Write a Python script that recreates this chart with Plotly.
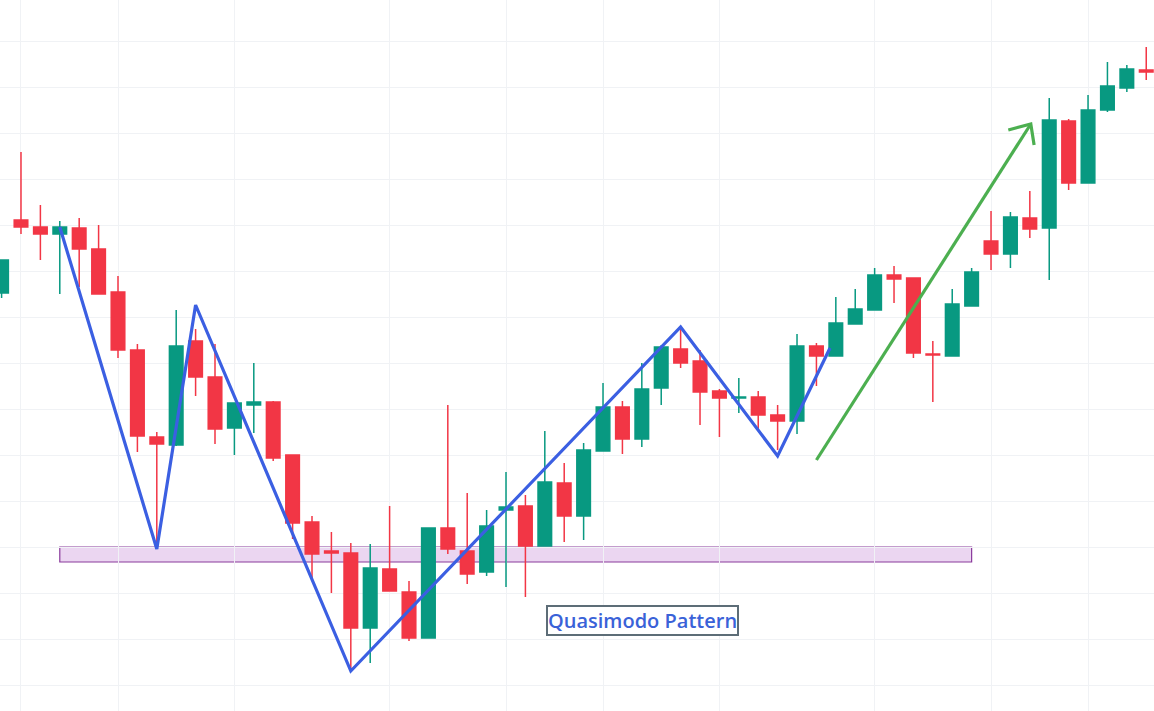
import plotly.graph_objects as go

# candle index 0..59, prices
opens = [43.8, 51.1, 50.4, 49.7, 50.3, 48.2, 43.9, 38.1, 29.4, 28.6,
         39.0, 35.4, 30.3, 32.6, 32.9, 27.6, 20.9, 18.0, 17.8, 10.3,
         16.2, 13.9, 9.3, 20.3, 18.0, 15.9, 22.1, 22.5, 18.5, 24.8,
         21.5, 28.0, 32.4, 29.2, 34.3, 38.2, 37.0, 34.0, 33.3, 33.4,
         31.6, 31.0, 38.5, 37.5, 40.7, 42.1, 45.6, 45.3, 37.7, 37.5,
         42.5, 49.0, 47.7, 51.3, 50.3, 61.0, 54.8, 62.1, 64.3, 66.1]
highs = [47.1, 57.9, 52.6, 51.0, 51.3, 50.6, 45.5, 38.7, 29.9, 42.1,
         40.2, 38.7, 32.8, 36.8, 33.0, 27.6, 21.5, 19.9, 18.8, 18.7,
         22.5, 15.0, 20.3, 32.6, 23.8, 22.1, 25.9, 23.6, 30.0, 26.8,
         28.8, 34.8, 33.0, 36.8, 38.6, 40.2, 38.1, 34.2, 35.3, 34.0,
         32.6, 39.7, 38.8, 43.4, 44.2, 46.3, 46.5, 45.3, 39.0, 44.2,
         46.3, 52.0, 51.9, 54.0, 63.3, 61.2, 63.6, 66.9, 66.6, 68.4]
lows = [43.3, 49.7, 47.1, 43.7, 44.4, 43.7, 37.3, 27.9, 18.4, 28.5,
        33.5, 28.7, 27.6, 29.8, 27.0, 19.2, 15.3, 13.8, 5.9, 6.8,
        14.0, 9.0, 9.3, 17.7, 14.7, 15.5, 14.4, 13.4, 18.5, 18.9,
        19.1, 28.0, 27.7, 28.4, 32.6, 36.3, 30.6, 29.4, 31.8, 30.1,
        28.1, 29.7, 34.5, 37.5, 40.7, 42.1, 42.8, 37.3, 32.9, 37.5,
        42.5, 46.1, 46.3, 49.3, 45.1, 54.1, 54.8, 61.9, 63.9, 65.1]
closes = [47.1, 50.4, 49.7, 50.4, 48.2, 43.7, 38.1, 29.5, 28.7, 38.5,
          35.4, 30.2, 32.8, 32.9, 27.3, 20.8, 17.7, 17.8, 10.3, 16.3,
          14.0, 9.3, 20.3, 18.2, 15.7, 20.5, 22.4, 18.5, 24.9, 21.5,
          28.1, 32.4, 29.2, 34.2, 38.4, 36.8, 33.9, 33.3, 33.4, 31.6,
          31.0, 38.5, 37.5, 40.8, 42.2, 45.6, 45.2, 37.8, 37.6, 42.7,
          45.9, 47.7, 51.4, 50.2, 61.1, 54.8, 62.1, 64.5, 66.2, 65.9]
idx = list(range(len(opens)))

# vertical grid positions (date ticks)
date_ticks = [1, 6, 12, 20, 26, 31, 37, 45, 51, 56]

# drawn pattern
zigzag_x = [3.0, 8.0, 10.0, 18.0, 35.0, 40.0, 42.7]
zigzag_y = [50.4, 18.2, 42.6, 6.0, 40.4, 27.5, 38.3]
arrow_x = [42.0, 53.05, None, 51.89, 53.05, 53.22]
arrow_y = [27.1, 60.7, None, 60.1, 60.7, 58.6]
zone_x = [3.0, 50.0]
zone_y = [16.9, 18.4]
label_pos = (33.06, 11.05)

fig = go.Figure()
fig.add_trace(go.Candlestick(
    x=idx, open=opens, high=highs, low=lows, close=closes,
    increasing=dict(line=dict(color='#089981', width=1.5), fillcolor='#089981'),
    decreasing=dict(line=dict(color='#f23645', width=1.5), fillcolor='#f23645'),
    whiskerwidth=0, hoverinfo='skip', showlegend=False))
fig.add_trace(go.Scatter(x=zigzag_x, y=zigzag_y, mode='lines',
                         line=dict(color='#3b5fe2', width=3.2),
                         hoverinfo='skip', showlegend=False))
fig.add_trace(go.Scatter(x=arrow_x, y=arrow_y, mode='lines',
                         line=dict(color='#4caf50', width=3.2),
                         hoverinfo='skip', showlegend=False))

fig.add_shape(type='rect', x0=zone_x[0], x1=zone_x[1], y0=zone_y[0], y1=zone_y[1],
              xref='x', yref='y', layer='below',
              fillcolor='#ebd6f1', line=dict(color='#8a3a9c', width=1.2))

fig.add_annotation(x=label_pos[0], y=label_pos[1], text='Quasimodo Pattern',
                   showarrow=False,
                   font=dict(family='Open Sans', size=20, color='#3a62d8', weight=600),
                   bgcolor='white', bordercolor='#5d6d77', borderwidth=2, borderpad=0)

fig.update_layout(
    width=1154, height=711,
    margin=dict(l=0, r=0, t=0, b=0),
    paper_bgcolor='white', plot_bgcolor='white',
    boxgap=0.3, boxgroupgap=0,
    xaxis=dict(range=[-0.082, 59.4], tickvals=date_ticks, showticklabels=False,
               showgrid=True, gridcolor='#f0f2f5', zeroline=False,
               rangeslider=dict(visible=False), fixedrange=True),
    yaxis=dict(range=[2.0, 73.1], tick0=0, dtick=4.6, showticklabels=False,
               showgrid=True, gridcolor='#f0f2f5', zeroline=False, fixedrange=True),
)

fig.write_html("out.html", config={'displayModeBar': False},
               post_script="document.body.style.margin='0';")
